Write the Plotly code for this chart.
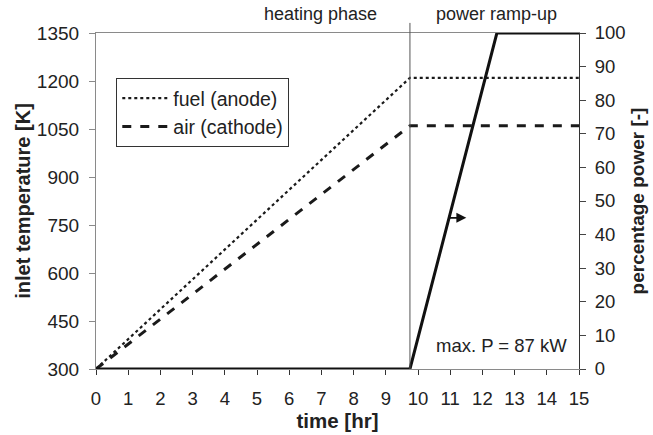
import plotly.graph_objects as go

# Inlet temperature profiles during the heating phase (K vs hr)
heat_time = [0.0, 9.75, 15.0]
fuel_temp = [300, 1210, 1210]
air_temp = [300, 1060, 1060]

# Percentage power during the ramp-up (0-100 %)
power_time = [0.0, 9.75, 12.45, 15.0]
power_pct = [0, 0, 100, 100]

phase_switch = 9.75
arrow_at = (10.92, 45)
arrow_to = 11.5

x_ticks = list(range(0, 16))
y_ticks = list(range(300, 1351, 150))
y2_ticks = list(range(0, 101, 10))

FONT = "Liberation Sans, Arial, sans-serif"
TXT = "#222222"
AX_GRAY = "#8a8a8a"

fig = go.Figure()

fig.add_trace(go.Scatter(
    x=heat_time, y=fuel_temp, mode="lines", name="fuel (anode)",
    line=dict(color="#1a1a1a", width=2.2, dash="dot"),
))
fig.add_trace(go.Scatter(
    x=heat_time, y=air_temp, mode="lines", name="air (cathode)",
    line=dict(color="#1a1a1a", width=3, dash="dash"),
))
fig.add_trace(go.Scatter(
    x=power_time, y=power_pct, mode="lines", yaxis="y2", showlegend=False,
    line=dict(color="#111111", width=3), cliponaxis=False,
))

# separator between the two phases, extending above the plot frame
fig.add_shape(type="line", xref="x", yref="paper",
              x0=phase_switch, x1=phase_switch, y0=0, y1=1.03,
              line=dict(color="#555555", width=1))

# arrow pointing the power line to the right-hand axis
fig.add_annotation(x=arrow_to, y=arrow_at[1], ax=arrow_at[0], ay=arrow_at[1],
                   xref="x", yref="y2", axref="x", ayref="y2",
                   showarrow=True, arrowhead=2, arrowsize=1.1, arrowwidth=1.8,
                   arrowcolor="#111111", text="")

fig.add_annotation(x=6.96, y=1.057, xref="x", yref="paper",
                   text="heating phase", showarrow=False, yanchor="middle",
                   font=dict(family=FONT, size=18, color=TXT))
fig.add_annotation(x=12.45, y=1.057, xref="x", yref="paper",
                   text="power ramp-up", showarrow=False, yanchor="middle",
                   font=dict(family=FONT, size=18, color=TXT))
fig.add_annotation(x=14.7, y=0.07, xref="x", yref="paper",
                   text="max. P = 87 kW", showarrow=False,
                   xanchor="right", yanchor="middle",
                   font=dict(family=FONT, size=18.5, color=TXT))

fig.update_layout(
    width=653, height=435,
    margin=dict(l=96, r=74, t=33, b=66),
    plot_bgcolor="white", paper_bgcolor="white",
    font=dict(family=FONT, size=18.5, color=TXT),
    legend=dict(x=0.042, y=0.866, xanchor="left", yanchor="top",
                bordercolor="#333333", borderwidth=1, bgcolor="white",
                font=dict(family=FONT, size=19.5, color=TXT),
                tracegroupgap=0, itemwidth=46),
    xaxis=dict(
        range=[0, 15], tickvals=x_ticks, ticks="outside", ticklen=5,
        tickcolor="#333333", showline=True, linecolor=AX_GRAY, linewidth=1,
        mirror=True, showgrid=False, zeroline=False, ticklabelstandoff=8,
        automargin=False,
        title=dict(text="<b>time [hr]</b>", standoff=0,
                   font=dict(family=FONT, size=20.5, color=TXT)),
        tickfont=dict(family=FONT, size=18.5, color=TXT),
    ),
    yaxis=dict(
        range=[300, 1350], tickvals=y_ticks, ticks="outside", ticklen=6,
        tickcolor=AX_GRAY, showline=True, linecolor=AX_GRAY, linewidth=1.2,
        showgrid=False, zeroline=False, ticklabelstandoff=6, automargin=False,
        title=dict(text="<b>inlet temperature [K]</b>", standoff=0,
                   font=dict(family=FONT, size=20, color=TXT)),
        tickfont=dict(family=FONT, size=19, color=TXT),
    ),
    yaxis2=dict(
        range=[0, 100], tickvals=y2_ticks, ticks="outside", ticklen=6,
        tickcolor="#444444", showline=True, linecolor="#333333", linewidth=1,
        overlaying="y", side="right", showgrid=False, zeroline=False,
        ticklabelstandoff=5, automargin=False,
        title=dict(text="<b>percentage power [-]</b>", standoff=6,
                   font=dict(family=FONT, size=19, color=TXT)),
        tickfont=dict(family=FONT, size=18.5, color=TXT),
    ),
)

fig.write_html("out.html")
